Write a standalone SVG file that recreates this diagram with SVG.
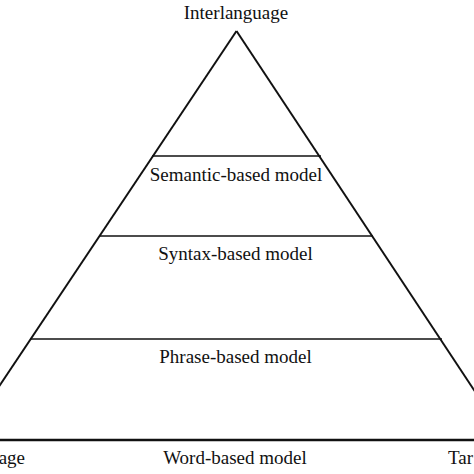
<svg xmlns="http://www.w3.org/2000/svg" width="474" height="474" viewBox="0 0 474 474">
<style>
.t{font-family:"Liberation Serif","Times New Roman",serif;font-size:19px;fill:#111;text-anchor:middle}
.s{stroke:#111;fill:none}
</style>
<rect width="474" height="474" fill="#fff"/>
<g id="connectors">
<line class="s" x1="236.5" y1="31" x2="-2" y2="388" stroke-width="2"/>
<line class="s" x1="236.5" y1="31" x2="476" y2="393" stroke-width="2"/>
<line class="s" x1="152" y1="156" x2="321" y2="156" stroke-width="1.5"/>
<line class="s" x1="99" y1="236" x2="373" y2="236" stroke-width="1.5"/>
<line class="s" x1="30" y1="339" x2="442" y2="339" stroke-width="1.5"/>
<line class="s" x1="0" y1="440" x2="474" y2="440" stroke-width="2.5"/>
</g>
<g id="interlanguage"><text class="t" x="236" y="19" font-size="18.5">Interlanguage</text></g>
<g id="semantic"><text class="t" x="236" y="181">Semantic-based model</text></g>
<g id="syntax"><text class="t" x="235.5" y="260">Syntax-based model</text></g>
<g id="phrase"><text class="t" x="235.5" y="363">Phrase-based model</text></g>
<g id="word"><text class="t" x="235" y="464">Word-based model</text></g>
<g id="source"><text class="t" x="25" y="464" style="text-anchor:end">age</text></g>
<g id="target"><text class="t" x="448" y="464" style="text-anchor:start">Tar</text></g>
</svg>
